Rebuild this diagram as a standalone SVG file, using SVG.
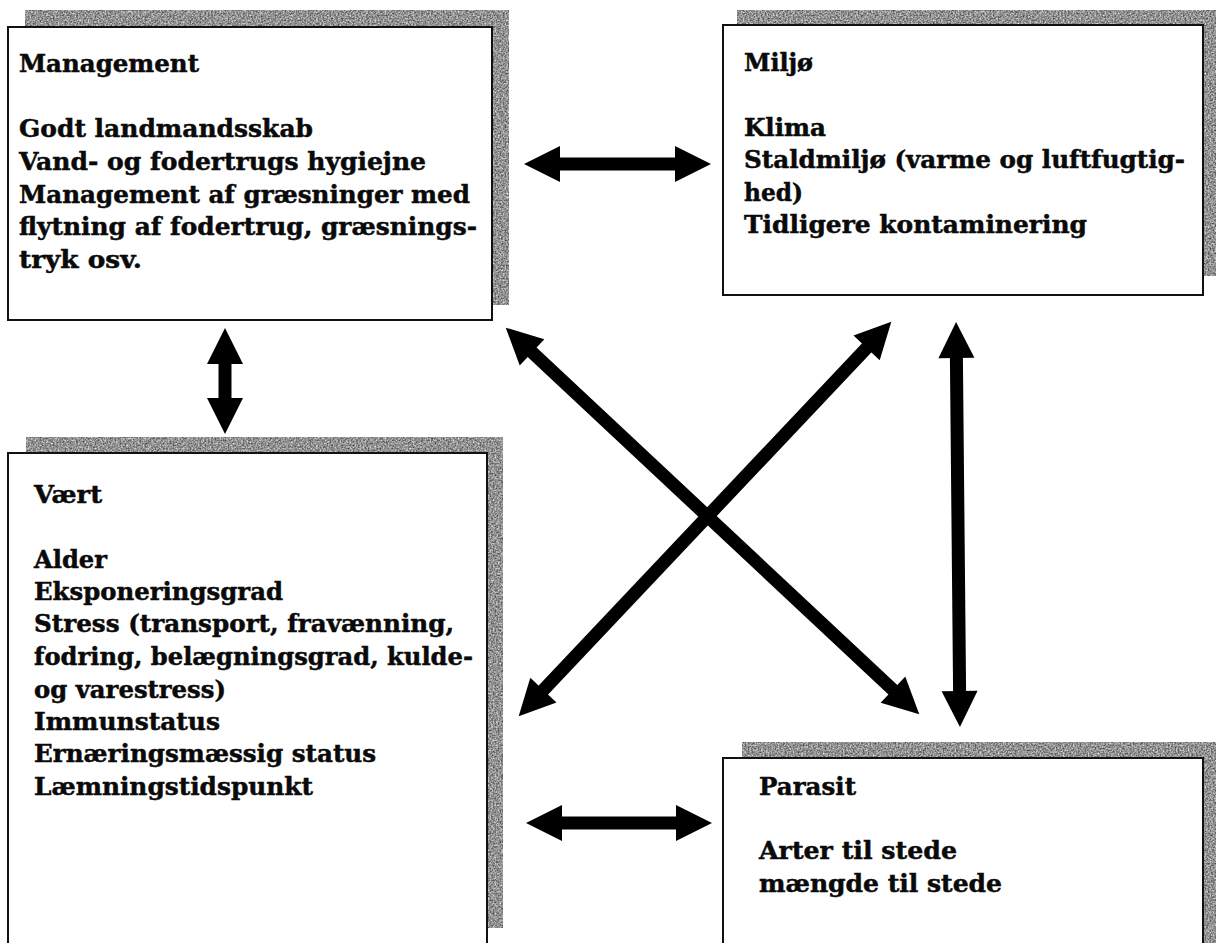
<svg xmlns="http://www.w3.org/2000/svg" width="1217" height="943" viewBox="0 0 1217 943">
  <style>
    .shadow { fill: #8e8e8e; filter: url(#grain); }
    .box { fill: #ffffff; stroke: #111111; stroke-width: 2; }
    .t { font-family: "DejaVu Serif", "Liberation Serif", serif; font-weight: bold; font-size: 25px; fill: #0a0a0a; stroke: #0a0a0a; stroke-width: 0.5; }
    .conn { stroke: #000000; stroke-width: 13; fill: none; marker-start: url(#head); marker-end: url(#head); }
  </style>
  <defs>
    <filter id="grain" x="0" y="0" width="1" height="1" color-interpolation-filters="sRGB">
      <feTurbulence type="fractalNoise" baseFrequency="0.6" numOctaves="2" seed="4" result="noise"/>
      <feColorMatrix in="noise" type="matrix" values="0.9 0 0 0 0.12  0.9 0 0 0 0.12  0.9 0 0 0 0.12  0 0 0 0 1" result="gray"/>
      <feComposite in="gray" in2="SourceGraphic" operator="in"/>
    </filter>
    <marker id="head" markerUnits="userSpaceOnUse" markerWidth="38" markerHeight="38" viewBox="0 -19 38 38" refX="1" refY="0" orient="auto-start-reverse" overflow="visible">
      <path d="M0,-18 L36,0 L0,18 Z" fill="#000000"/>
    </marker>
  </defs>

  <g id="management">
    <rect class="shadow" x="25" y="10" width="484" height="295"/>
    <rect class="box" x="8" y="27" width="484" height="293"/>
    <text class="t" x="19" y="72" textLength="180" lengthAdjust="spacingAndGlyphs">Management</text>
    <text class="t" x="19" y="137" textLength="294" lengthAdjust="spacingAndGlyphs">Godt landmandsskab</text>
    <text class="t" x="19" y="170" textLength="407" lengthAdjust="spacingAndGlyphs">Vand- og fodertrugs hygiejne</text>
    <text class="t" x="19" y="203" textLength="451" lengthAdjust="spacingAndGlyphs">Management af græsninger med</text>
    <text class="t" x="19" y="235" textLength="458" lengthAdjust="spacingAndGlyphs">flytning af fodertrug, græsnings-</text>
    <text class="t" x="19" y="268" textLength="123" lengthAdjust="spacingAndGlyphs">tryk osv.</text>
  </g>

  <g id="miljo">
    <rect class="shadow" x="737" y="10" width="479" height="266"/>
    <rect class="box" x="723" y="25" width="480" height="270"/>
    <text class="t" x="744" y="71" textLength="69" lengthAdjust="spacingAndGlyphs">Miljø</text>
    <text class="t" x="744" y="136" textLength="82" lengthAdjust="spacingAndGlyphs">Klima</text>
    <text class="t" x="744" y="168" textLength="441" lengthAdjust="spacingAndGlyphs">Staldmiljø (varme og luftfugtig-</text>
    <text class="t" x="744" y="201" textLength="59" lengthAdjust="spacingAndGlyphs">hed)</text>
    <text class="t" x="744" y="233" textLength="343" lengthAdjust="spacingAndGlyphs">Tidligere kontaminering</text>
  </g>

  <g id="vaert">
    <rect class="shadow" x="26" y="437" width="477" height="491"/>
    <rect class="box" x="8" y="453" width="479" height="500"/>
    <text class="t" x="34" y="503" textLength="68" lengthAdjust="spacingAndGlyphs">Vært</text>
    <text class="t" x="34" y="568" textLength="73" lengthAdjust="spacingAndGlyphs">Alder</text>
    <text class="t" x="34" y="600" textLength="249" lengthAdjust="spacingAndGlyphs">Eksponeringsgrad</text>
    <text class="t" x="34" y="632" textLength="420" lengthAdjust="spacingAndGlyphs">Stress (transport, fravænning,</text>
    <text class="t" x="34" y="665" textLength="439" lengthAdjust="spacingAndGlyphs">fodring, belægningsgrad, kulde-</text>
    <text class="t" x="34" y="698" textLength="192" lengthAdjust="spacingAndGlyphs">og varestress)</text>
    <text class="t" x="34" y="730" textLength="186" lengthAdjust="spacingAndGlyphs">Immunstatus</text>
    <text class="t" x="34" y="762" textLength="342" lengthAdjust="spacingAndGlyphs">Ernæringsmæssig status</text>
    <text class="t" x="34" y="795" textLength="279" lengthAdjust="spacingAndGlyphs">Læmningstidspunkt</text>
  </g>

  <g id="parasit">
    <rect class="shadow" x="742" y="742" width="474" height="210"/>
    <rect class="box" x="723" y="758" width="480" height="200"/>
    <text class="t" x="759" y="795" textLength="97" lengthAdjust="spacingAndGlyphs">Parasit</text>
    <text class="t" x="759" y="859" textLength="198" lengthAdjust="spacingAndGlyphs">Arter til stede</text>
    <text class="t" x="759" y="892" textLength="243" lengthAdjust="spacingAndGlyphs">mængde til stede</text>
  </g>

  <g id="connectors">
    <line class="conn" x1="559" y1="164" x2="676" y2="164"/>
    <line class="conn" x1="225" y1="363" x2="225" y2="399"/>
    <line class="conn" x1="956.4" y1="357" x2="959.6" y2="692"/>
    <line class="conn" x1="561" y1="823" x2="677" y2="823"/>
    <line class="conn" x1="531.3" y1="351.6" x2="893.7" y2="690.4"/>
    <line class="conn" x1="867.3" y1="347.2" x2="542.7" y2="690.8"/>
  </g>
</svg>
